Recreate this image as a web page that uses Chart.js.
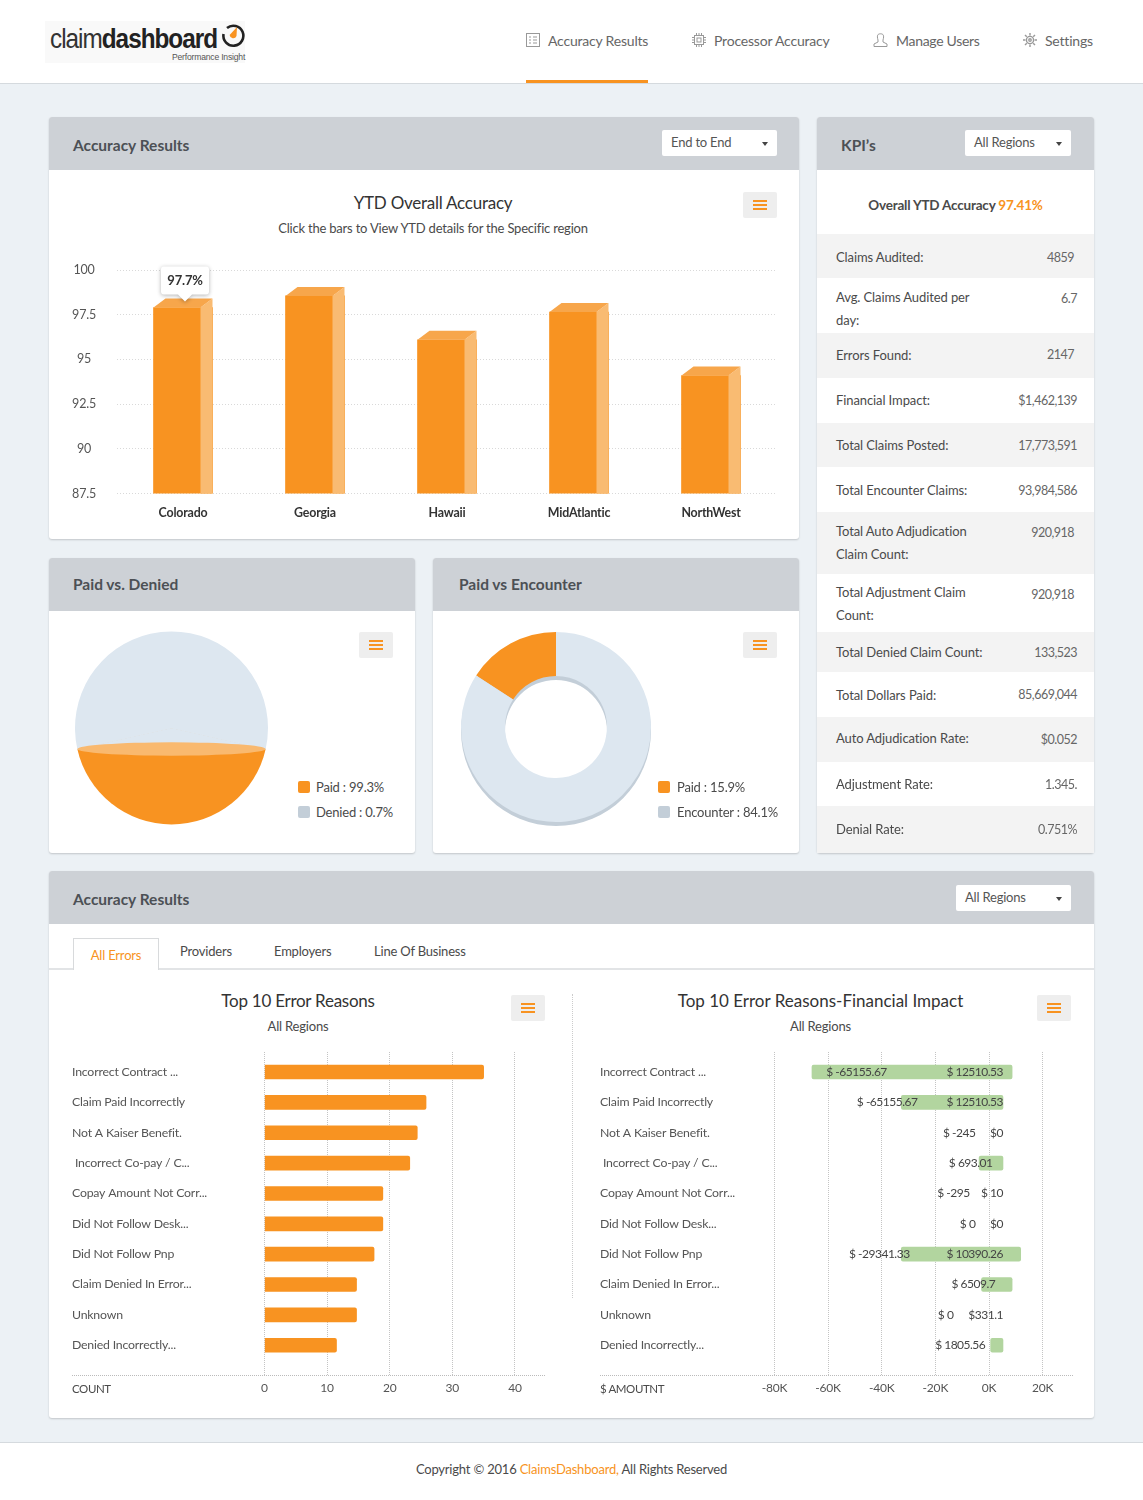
<!DOCTYPE html>
<html>
<head>
<meta charset="utf-8">
<title>claimdashboard</title>
<script src="https://cdn.jsdelivr.net/npm/chart.js@4"></script>
<style>
html, body { margin: 0; padding: 0; }
body { position: relative; width: 1143px; height: 1500px; background: #ecf1f5; font-family: Lato, sans-serif; font-size: 13px; letter-spacing: -.2px; color: #4a4a4a; overflow: hidden; }
.t { position: absolute; white-space: nowrap; transform: translateY(-50%); }
.c { position: absolute; white-space: nowrap; transform: translate(-50%, -50%); }
.card { position: absolute; background: #fff; border-radius: 3px; box-shadow: 0 1px 2px rgba(0,0,0,.18); overflow: hidden; }
.head { position: absolute; left: 0; top: 0; right: 0; height: 53px; background: #cdd1d6; }
.cardtitle { font-size: 15.5px; font-weight: 700; color: #4c5055; letter-spacing: 0; }
.title { font-size: 17px; color: #333; letter-spacing: -.25px; }
.nav { font-size: 14px; color: #666; }
.select { position: absolute; height: 26px; background: #fff; border-radius: 2px; line-height: 25px; padding-left: 9px; box-sizing: border-box; font-size: 13px; color: #555; }
.select:after { content: ""; position: absolute; right: 9px; top: 12px; border: 3px solid transparent; border-top: 4px solid #444; border-bottom: 0; }
.menu { position: absolute; width: 34px; height: 26px; background: #eee; border-radius: 2px; }
.menu i { position: absolute; left: 10px; width: 14px; height: 2px; background: #f89321; }
.menu i:nth-child(1) { top: 8px; } .menu i:nth-child(2) { top: 12px; } .menu i:nth-child(3) { top: 16px; }
.swatch { position: absolute; width: 12px; height: 12px; border-radius: 2px; }
canvas { position: absolute; }
.rule { position: absolute; height: 0; border-top: 1px dotted #bbb; }
.row { position: absolute; left: 817px; width: 277px; }
.axisname { font-size: 11.5px; letter-spacing: -.4px; }
</style>
</head>
<body>

<!-- top bar -->
<div style="position:absolute;left:0;top:0;width:1143px;height:83px;background:#fff;border-bottom:1px solid #d5dade"></div>
<div style="position:absolute;left:45px;top:21px;width:200px;height:42px;background:#f9f9f9"></div>
<div style="position:absolute;left:50px;top:24px;transform:scaleX(.9);transform-origin:left top;white-space:nowrap;font-family:'Liberation Sans';font-size:27px;letter-spacing:-1.1px;color:#222"><span style="font-weight:400;color:#333">claim</span><span style="font-weight:700">dashboard</span></div>
<div class="t" style="left:172px;top:57px;font-family:'Liberation Sans';font-size:8.6px;letter-spacing:-.2px;color:#555">Performance Insight</div>
<svg style="position:absolute;left:220px;top:22px" width="26" height="26" viewBox="0 0 26 26">
  <path d="M7 6 A10 10 0 1 1 3.5 12" fill="none" stroke="#222" stroke-width="2.6"/>
  <path d="M17 5 L16.5 14 A3.6 3.6 0 0 1 9.6 13 Z" fill="#f89321"/>
</svg>

<svg style="position:absolute;left:526px;top:33px" width="14" height="14" viewBox="0 0 14 14" fill="none" stroke="#999">
  <rect x=".5" y=".5" width="13" height="13"/><path d="M3 4h2M3 7h2M3 10h2M7 4h4M7 7h4M7 10h4"/>
</svg>
<div class="t nav" style="left:548px;top:39.5px">Accuracy Results</div>
<svg style="position:absolute;left:692px;top:33px" width="14" height="14" viewBox="0 0 14 14" fill="none" stroke="#999">
  <rect x="2.5" y="2.5" width="9" height="9"/><rect x="5" y="5" width="4" height="4"/><path d="M4.5 0v2M7 0v2M9.5 0v2M4.5 12v2M7 12v2M9.5 12v2M0 4.5h2M0 7h2M0 9.5h2M12 4.5h2M12 7h2M12 9.5h2"/>
</svg>
<div class="t nav" style="left:714px;top:39.5px">Processor Accuracy</div>
<svg style="position:absolute;left:873px;top:33px" width="15" height="14" viewBox="0 0 15 14" fill="none" stroke="#999">
  <path d="M5 7 C3.5 2 5 .8 7.5 .8 S11.5 2 10 7 L10 9 L14 11 V13.5 H1 V11 L5 9 Z"/>
</svg>
<div class="t nav" style="left:896px;top:39.5px;letter-spacing:-.3px">Manage Users</div>
<svg style="position:absolute;left:1023px;top:33px" width="14" height="14" viewBox="0 0 14 14" fill="none" stroke="#999" stroke-width="1.4">
  <circle cx="7" cy="7" r="3.6"/><circle cx="7" cy="7" r="1.2"/><path d="M7 0v2.4M7 11.6V14M0 7h2.4M11.6 7H14M2 2l1.8 1.8M10.2 10.2L12 12M12 2l-1.8 1.8M3.8 10.2L2 12"/>
</svg>
<div class="t nav" style="left:1045px;top:39.5px">Settings</div>
<div style="position:absolute;left:526px;top:80px;width:122px;height:3px;background:#f89321"></div>

<!-- cards -->
<div class="card" style="left:49px;top:117px;width:750px;height:422px"><div class="head"></div></div>
<div class="card" style="left:817px;top:117px;width:277px;height:736px"><div class="head"></div></div>
<div class="card" style="left:49px;top:558px;width:366px;height:295px"><div class="head"></div></div>
<div class="card" style="left:433px;top:558px;width:366px;height:295px"><div class="head"></div></div>
<div class="card" style="left:49px;top:871px;width:1045px;height:547px"><div class="head"></div></div>

<div class="t cardtitle" style="left:73px;top:144.5px">Accuracy Results</div>
<div class="select" style="left:662px;top:130px;width:115px">End to End</div>
<div class="t cardtitle" style="left:841px;top:144.5px">KPI’s</div>
<div class="select" style="left:965px;top:130px;width:106px">All Regions</div>
<div class="t cardtitle" style="left:73px;top:584px">Paid vs. Denied</div>
<div class="t cardtitle" style="left:459px;top:584px">Paid vs Encounter</div>
<div class="t cardtitle" style="left:73px;top:899px">Accuracy Results</div>
<div class="select" style="left:956px;top:885px;width:115px">All Regions</div>

<!-- first chart -->
<div class="c title" style="left:433px;top:202px">YTD Overall Accuracy</div>
<div class="c" style="left:433px;top:228px">Click the bars to View YTD details for the Specific region</div>
<div class="menu" style="left:743px;top:192px"><i></i><i></i><i></i></div>
<canvas id="accuracyChart" width="750" height="280" style="left:48px;top:255px"></canvas>

<!-- pies -->
<div class="menu" style="left:359px;top:632px"><i></i><i></i><i></i></div>
<canvas id="deniedChart" width="223" height="220" style="left:60px;top:618px"></canvas>
<div class="swatch" style="left:298px;top:781px;background:#f89321"></div>
<div class="t" style="left:316px;top:787px" id="deniedLegend0"></div>
<div class="swatch" style="left:298px;top:806px;background:#c3ced8"></div>
<div class="t" style="left:316px;top:812px" id="deniedLegend1"></div>

<div class="menu" style="left:743px;top:632px"><i></i><i></i><i></i></div>
<canvas id="encounterChart" width="222" height="220" style="left:445px;top:617px"></canvas>
<div class="swatch" style="left:658px;top:781px;background:#f89321"></div>
<div class="t" style="left:677px;top:787px" id="encounterLegend0"></div>
<div class="swatch" style="left:658px;top:806px;background:#c3ced8"></div>
<div class="t" style="left:677px;top:812px" id="encounterLegend1"></div>

<!-- KPI list -->
<div class="c" style="left:955.5px;top:205px;font-weight:700;font-size:13.5px;color:#4a4a4a">Overall YTD Accuracy <span style="color:#f89321">97.41%</span></div>
<div id="kpiList"></div>

<!-- tabs -->
<div style="position:absolute;left:49px;top:968px;width:1045px;height:2px;background:#e2e4e6"></div>
<div style="position:absolute;left:73px;top:938px;width:84px;height:31px;background:#fff;border:1px solid #d8dadc;border-bottom:0"></div>
<div class="c" style="left:116px;top:955px;color:#f89321">All Errors</div>
<div class="t" style="left:180px;top:951px">Providers</div>
<div class="t" style="left:274px;top:951px">Employers</div>
<div class="t" style="left:374px;top:951px">Line Of Business</div>

<!-- error charts -->
<div class="c title" style="left:298px;top:1000px">Top 10 Error Reasons</div>
<div class="c" style="left:298px;top:1026px">All Regions</div>
<div class="menu" style="left:511px;top:995px"><i></i><i></i><i></i></div>
<canvas id="countChart" width="473" height="348" style="left:72px;top:1052px"></canvas>
<div class="rule" style="left:72px;top:1375px;width:473px"></div>
<div class="t axisname" style="left:72px;top:1388px">COUNT</div>

<div style="position:absolute;left:572px;top:994px;height:304px;border-left:1px dotted #ccc"></div>

<div class="c title" style="left:820.5px;top:1000px;letter-spacing:0">Top 10 Error Reasons-Financial Impact</div>
<div class="c" style="left:820.5px;top:1026px">All Regions</div>
<div class="menu" style="left:1037px;top:995px"><i></i><i></i><i></i></div>
<canvas id="amountChart" width="473" height="348" style="left:600px;top:1052px"></canvas>
<div class="rule" style="left:600px;top:1375px;width:473px"></div>
<div class="t axisname" style="left:600px;top:1387.5px">$ AMOUTNT</div>

<!-- footer -->
<div style="position:absolute;left:0;top:1442px;width:1143px;height:58px;background:#fff;border-top:1px solid #d5dade"></div>
<div class="c" style="left:571.5px;top:1469px">Copyright © 2016 <span style="color:#f89321">ClaimsDashboard,</span> All Rights Reserved</div>

<script>
// ytd accuracy bars
const regions = ['Colorado', 'Georgia', 'Hawaii', 'MidAtlantic', 'NorthWest'];
const accuracy = [97.9, 98.55, 96.1, 97.65, 94.1];
const accuracyTicks = [87.5, 90, 92.5, 95, 97.5, 100];
const hoverLabel = '97.7%';

// pies
const deniedNames = ['Paid : 99.3%', 'Denied : 0.7%'];
const deniedArc = [43, 57];
const encounterNames = ['Paid : 15.9%', 'Encounter : 84.1%'];
const encounterShare = [15.9, 84.1];

// top 10 errors
const errorReasons = ['Incorrect Contract ...', 'Claim Paid Incorrectly', 'Not A Kaiser Benefit.', ' Incorrect Co-pay / C...', 'Copay Amount Not Corr...', 'Did Not Follow Desk...', 'Did Not Follow Pnp', 'Claim Denied In Error...', 'Unknown', 'Denied Incorrectly...'];
const errorCounts = [35, 25.8, 24.4, 23.2, 18.9, 18.9, 17.5, 14.7, 14.7, 11.5];
const countTicks = [0, 10, 20, 30, 40];

// financial impact, in thousands
const amountLow = [-66, -32.7, null, -3.7, null, null, -32.7, -2.8, null, 0.6];
const amountHigh = [8.6, 5.2, null, 5.2, null, null, 11.8, 8.6, null, 5.2];
const amountTicks = [-80, -60, -40, -20, 0, 20];
const lowText = ['$ -65155.67', '$ -65155.67', '$ -245', '$ 693.01', '$ -295', '$ 0', '$ -29341.33', '$ 6509.7', '$ 0', '$ 1805.56'];
const highText = ['$ 12510.53', '$ 12510.53', '$0', null, '$ 10', '$0', '$ 10390.26', null, '$331.1', null];
const lowTextAt = [-38.1, -26.7, -5.1, 1.3, -7.2, -5.1, -29.6, 2.3, -13.3, -1.4];
const highTextAt = 5.2;

// kpi list
const kpiNames = ['Claims Audited:', 'Avg. Claims Audited per<br>day:', 'Errors Found:', 'Financial Impact:', 'Total Claims Posted:', 'Total Encounter Claims:', 'Total Auto Adjudication<br>Claim Count:', 'Total Adjustment Claim<br>Count:', 'Total Denied Claim Count:', 'Total Dollars Paid:', 'Auto Adjudication Rate:', 'Adjustment Rate:', 'Denial Rate:'];
const kpiValues = ['4859', '6.7', '2147', '$1,462,139', '17,773,591', '93,984,586', '920,918', '920,918', '133,523', '85,669,044', '$0.052', '1.345.', '0.751%'];
const kpiRowEdges = [234, 278, 333, 378, 423, 467, 512, 574, 632, 672, 717, 762, 806, 853];
const kpiLabelY = [257, 308.5, 355, 400, 445, 489.5, 542.5, 603.5, 652, 694.5, 738, 784, 829];
const kpiValueY = [257, 298, 354, 400, 445, 489.5, 532, 594, 652, 693.5, 739, 784, 829];
const kpiValueRight = [20, 17, 20, 17, 17, 17, 20, 20, 17, 17, 17, 17, 17];

Chart.defaults.font.family = 'Lato';
Chart.defaults.color = '#555';
Chart.defaults.animation = false;
Chart.defaults.responsive = false;
Chart.defaults.plugins.legend.display = false;
Chart.defaults.plugins.tooltip.enabled = false;

const orange = '#f89321';
const paleBlue = '#dde7f0';

function hex(ctx, points, color)
{
    ctx.fillStyle = color;
    ctx.beginPath();
    points.forEach(function(p, i) { i ? ctx.lineTo(p[0], p[1]) : ctx.moveTo(p[0], p[1]); });
    ctx.closePath();
    ctx.fill();
}

// axes should not grow the plot for half a label
function noPad(s)
{
    s.paddingTop = 0;
    s.paddingBottom = 0;
    s.paddingLeft = 0;
    s.paddingRight = 0;
}

// side and top of the fake 3d bars, plus the hover bubble on the first one
const bar3d = {
    id: 'bar3d',
    afterDatasetsDraw(chart)
    {
        const ctx = chart.ctx;
        const bottom0 = chart.chartArea.bottom;
        const bars = chart.getDatasetMeta(0).data;
        bars.forEach(function(b)
        {
            const l = b.x - b.width / 2, r = b.x + b.width / 2;
            hex(ctx, [[r - 12, b.y], [r, b.y - 9], [r, bottom0], [r - 12, bottom0]], '#f9bb72');
            hex(ctx, [[l, b.y], [l + 12, b.y - 9], [r, b.y - 9], [r - 12, b.y]], '#f7a64b');
        });
        const tip = bars[0];
        const cx = tip.x + 2, bottom = tip.y - 13;
        ctx.save();
        ctx.shadowColor = 'rgba(0,0,0,.3)';
        ctx.shadowBlur = 4;
        ctx.shadowOffsetY = 1;
        ctx.fillStyle = '#fff';
        ctx.beginPath();
        ctx.roundRect(cx - 24, bottom - 28, 48, 28, 3);
        ctx.moveTo(cx - 7, bottom);
        ctx.lineTo(cx, bottom + 7);
        ctx.lineTo(cx + 7, bottom);
        ctx.fill();
        ctx.restore();
        ctx.fillStyle = '#333';
        ctx.font = 'bold 13px Lato';
        ctx.textAlign = 'center';
        ctx.textBaseline = 'middle';
        ctx.fillText(hoverLabel, cx, bottom - 14);
    }
};

new Chart(document.getElementById('accuracyChart'), {
    type: 'bar',
    data: { labels: regions, datasets: [{ data: accuracy, backgroundColor: orange, barThickness: 59 }] },
    options: {
        layout: { padding: { top: 15, right: 21 } },
        scales: {
            x: {
                grid: { display: false },
                border: { display: false },
                ticks: { padding: 4, color: '#333', font: { size: 12.4, weight: 'bold' } },
                afterFit(s) { s.height = 41.5; noPad(s); }
            },
            y: {
                min: 87.5,
                max: 100,
                grid: { color: '#d9d9d9', drawTicks: false },
                border: { display: false, dash: [1, 2] },
                ticks: { padding: 21, crossAlign: 'center', color: '#555', font: { size: 12.5 } },
                afterBuildTicks(s) { s.ticks = accuracyTicks.map(function(v) { return { value: v }; }); },
                afterFit(s) { s.width = 69; noPad(s); }
            }
        }
    },
    plugins: [bar3d]
});

// the orange part is a flat cut across the circle with a lighter rim
const chordFill = {
    id: 'chordFill',
    afterDatasetsDraw(chart)
    {
        const ctx = chart.ctx;
        const a = chart.getDatasetMeta(0).data[0];
        const x1 = a.x + a.outerRadius * Math.cos(a.startAngle), y1 = a.y + a.outerRadius * Math.sin(a.startAngle);
        const x2 = a.x + a.outerRadius * Math.cos(a.endAngle), y2 = a.y + a.outerRadius * Math.sin(a.endAngle);
        hex(ctx, [[a.x, a.y], [x1, y1], [x2, y2]], paleBlue);
        ctx.strokeStyle = paleBlue;
        ctx.stroke();
        ctx.fillStyle = '#f9b96f';
        ctx.beginPath();
        ctx.ellipse((x1 + x2) / 2, (y1 + y2) / 2, Math.abs(x1 - x2) / 2, 6.7, 0, 0, Math.PI * 2);
        ctx.fill();
    }
};

new Chart(document.getElementById('deniedChart'), {
    type: 'pie',
    data: { labels: deniedNames, datasets: [{ data: deniedArc, backgroundColor: [orange, paleBlue], borderWidth: 0 }] },
    options: { radius: 96.5, rotation: 180 - deniedArc[0] * 1.8 },
    plugins: [chordFill]
});

// grey copy of the ring a little lower, shows as an edge
const ringEdge = {
    id: 'ringEdge',
    beforeDatasetsDraw(chart)
    {
        const ctx = chart.ctx;
        const a = chart.getDatasetMeta(0).data[0];
        ctx.fillStyle = '#c3ced8';
        ctx.beginPath();
        ctx.arc(a.x, a.y + 4, a.outerRadius, 0, Math.PI * 2);
        ctx.arc(a.x, a.y + 4, a.innerRadius, 0, Math.PI * 2, true);
        ctx.fill();
    }
};

new Chart(document.getElementById('encounterChart'), {
    type: 'doughnut',
    data: { labels: encounterNames, datasets: [{ data: encounterShare, backgroundColor: [orange, paleBlue], borderWidth: 0 }] },
    options: { radius: 95, cutout: '53.7%', rotation: -encounterShare[0] * 3.6 },
    plugins: [ringEdge]
});

function rowAxis(width)
{
    return {
        type: 'linear',
        reverse: true,
        offset: false,
        min: -0.66,
        max: 9.98,
        grid: { display: false },
        border: { display: false },
        ticks: {
            crossAlign: 'far',
            padding: 0,
            color: '#555',
            font: { size: 12.3 },
            callback: function(v) { return errorReasons[v]; }
        },
        afterBuildTicks(s) { s.ticks = errorReasons.map(function(n, i) { return { value: i }; }); },
        afterFit(s) { s.width = width; noPad(s); }
    };
}

function valueAxis(min, max, ticks, format)
{
    return {
        min: min,
        max: max,
        grid: { color: '#c4c4c4', drawTicks: false },
        border: { display: false, dash: [1, 1] },
        ticks: { padding: 6, color: '#555', font: { size: 12 }, callback: format, maxRotation: 0 },
        afterBuildTicks(s) { s.ticks = ticks.map(function(v) { return { value: v }; }); },
        afterFit(s) { s.height = 25; noPad(s); }
    };
}

new Chart(document.getElementById('countChart'), {
    type: 'bar',
    data: { datasets: [{
        data: errorCounts.map(function(v, i) { return { x: v, y: i }; }),
        backgroundColor: orange,
        barThickness: 14,
        borderRadius: { topRight: 2, bottomRight: 2 },
        borderSkipped: false
    }] },
    options: {
        indexAxis: 'y',
        scales: {
            x: valueAxis(0, 44.8, countTicks, function(v) { return v; }),
            y: rowAxis(192.5)
        }
    }
});

// the dollar texts sit on top of the green bars
const amountText = {
    id: 'amountText',
    afterDatasetsDraw(chart)
    {
        const ctx = chart.ctx;
        const x = chart.scales.x, y = chart.scales.y;
        ctx.fillStyle = '#444';
        ctx.font = '12px Lato';
        ctx.letterSpacing = '-0.5px';
        ctx.textAlign = 'right';
        ctx.textBaseline = 'middle';
        lowText.forEach(function(txt, i)
        {
            ctx.fillText(txt, x.getPixelForValue(lowTextAt[i]), y.getPixelForValue(i));
            if (highText[i]) ctx.fillText(highText[i], x.getPixelForValue(highTextAt), y.getPixelForValue(i));
        });
        ctx.letterSpacing = '0px';
    }
};

new Chart(document.getElementById('amountChart'), {
    type: 'bar',
    data: { datasets: [{
        data: amountLow.map(function(v, i) { return { x: v === null ? null : [v, amountHigh[i]], y: i }; }),
        backgroundColor: '#b2d59f',
        barThickness: 14,
        borderRadius: 2,
        borderSkipped: false
    }] },
    options: {
        indexAxis: 'y',
        scales: {
            x: valueAxis(-80, 31.3, amountTicks, function(v) { return v + 'K'; }),
            y: rowAxis(174.4)
        }
    },
    plugins: [amountText]
});

// html bits
document.getElementById('deniedLegend0').textContent = deniedNames[0];
document.getElementById('deniedLegend1').textContent = deniedNames[1];
document.getElementById('encounterLegend0').textContent = encounterNames[0];
document.getElementById('encounterLegend1').textContent = encounterNames[1];

var kpiHtml = '';
kpiNames.forEach(function(name, i)
{
    const top = kpiRowEdges[i], h = kpiRowEdges[i + 1] - top;
    const bg = i % 2 ? '#fff' : '#f3f3f3';
    kpiHtml += '<div class="row" style="top:' + top + 'px;height:' + h + 'px;background:' + bg + '">' +
        '<div class="t" style="left:19px;top:' + (kpiLabelY[i] - top) + 'px;line-height:23px;letter-spacing:-.1px">' + name + '</div>' +
        '<div class="t" style="right:' + kpiValueRight[i] + 'px;top:' + (kpiValueY[i] - top) + 'px;color:#666;font-size:12.5px;letter-spacing:-.5px">' + kpiValues[i] + '</div>' +
        '</div>';
});
document.getElementById('kpiList').innerHTML = kpiHtml;
</script>
</body>
</html>
